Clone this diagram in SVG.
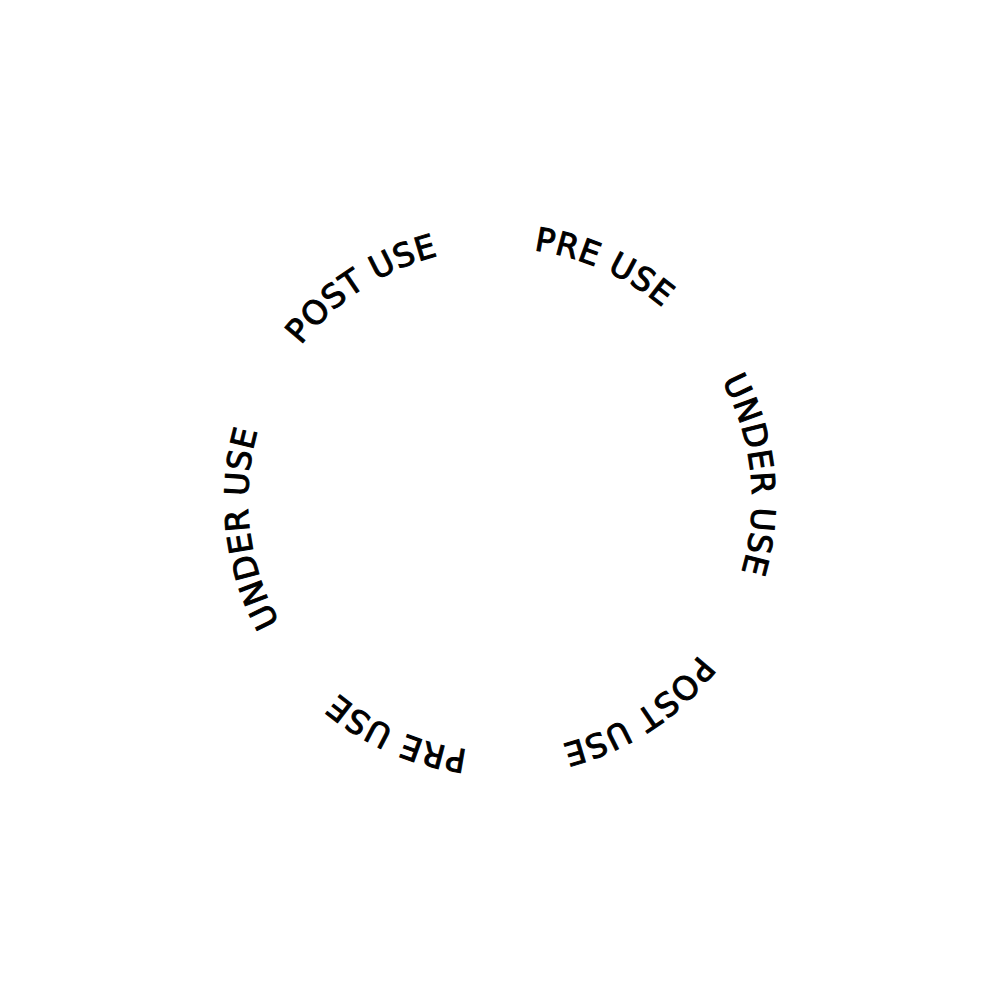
<svg xmlns="http://www.w3.org/2000/svg" xmlns:xlink="http://www.w3.org/1999/xlink" width="1000" height="1000" viewBox="0 0 1000 1000">
<style>
.lbl{font-family:"DejaVu Sans","Liberation Sans",sans-serif;font-size:32.5px;font-weight:normal;letter-spacing:0.8px;fill:#000;stroke:#000;stroke-width:1px;}
</style>
<defs>
<path id="ring" d="M500,248 A252,252 0 0 1 500,752 A252,252 0 0 1 500,248" fill="none"/>
</defs>
<rect width="1000" height="1000" fill="#fff"/>
<g id="pre-use-1"><text class="lbl" text-anchor="middle"><textPath xlink:href="#ring" href="#ring" startOffset="6.67%">PRE USE</textPath></text></g>
<g id="under-use-1"><text class="lbl" text-anchor="middle"><textPath xlink:href="#ring" href="#ring" startOffset="23.4%">UNDER USE</textPath></text></g>
<g id="post-use-1"><text class="lbl" text-anchor="middle"><textPath xlink:href="#ring" href="#ring" startOffset="40.8%">POST USE</textPath></text></g>
<g id="pre-use-2"><text class="lbl" text-anchor="middle"><textPath xlink:href="#ring" href="#ring" startOffset="56.6%">PRE USE</textPath></text></g>
<g id="under-use-2"><text class="lbl" text-anchor="middle"><textPath xlink:href="#ring" href="#ring" startOffset="73.2%">UNDER USE</textPath></text></g>
<g id="post-use-2"><text class="lbl" text-anchor="middle"><textPath xlink:href="#ring" href="#ring" startOffset="90.8%">POST USE</textPath></text></g>
</svg>
